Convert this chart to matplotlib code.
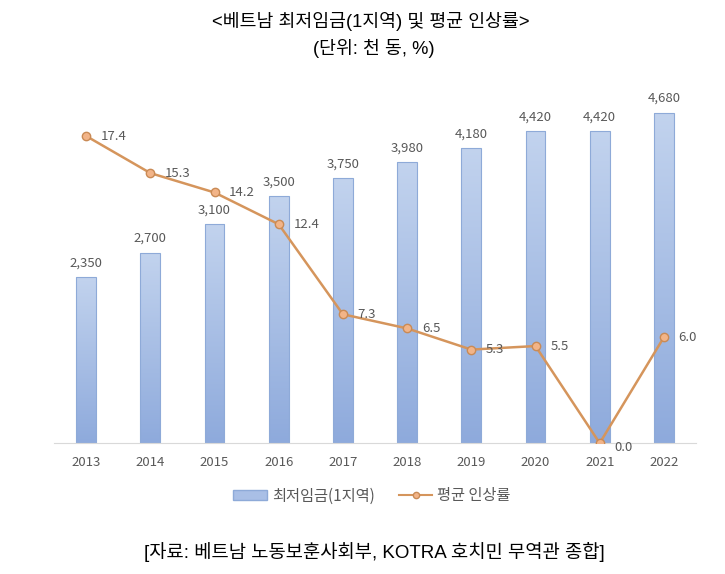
import numpy as np
import matplotlib.pyplot as plt
from matplotlib.lines import Line2D
from matplotlib.patches import Patch

plt.rcParams['font.family'] = ['Noto Sans CJK KR', 'DejaVu Sans']

years = ['2013', '2014', '2015', '2016', '2017', '2018', '2019', '2020', '2021', '2022']
wage = [2350, 2700, 3100, 3500, 3750, 3980, 4180, 4420, 4420, 4680]
rate = [17.4, 15.3, 14.2, 12.4, 7.3, 6.5, 5.3, 5.5, 0.0, 6.0]

gray = '#595959'
line_col = '#d5955c'
title_font = ['Liberation Sans', 'Noto Sans CJK KR']

fig = plt.figure(figsize=(7.25, 5.74), dpi=100)
ax = fig.add_axes([0.0745, 0.228, 0.8855, 0.615])
ax2 = ax.twinx()

x = np.arange(len(years))
bars = ax.bar(x, wage, width=0.31, color='none', edgecolor='#8eaad8', linewidth=0.8, zorder=2)

# gradient fill inside each bar
grad = np.linspace(0, 1, 256).reshape(-1, 1)
cmap = plt.matplotlib.colors.LinearSegmentedColormap.from_list('b', ['#8eaadc', '#c2d3ee'])
for b in bars:
    x0, w, h = b.get_x(), b.get_width(), b.get_height()
    im = ax.imshow(grad, extent=[x0, x0 + w, 0, h], origin='lower', cmap=cmap,
                   aspect='auto', zorder=1)
    im.set_clip_path(b)

for xi, v in zip(x, wage):
    ax.text(xi, v + 110, f'{v:,}', ha='center', va='bottom', fontsize=9.5, color=gray)

ax.set_xlim(-0.5, len(years) - 0.5)
ax.set_ylim(0, 5000)
ax2.set_ylim(0, 20)

ax2.plot(x, rate, color=line_col, linewidth=1.8, marker='o', markersize=6,
         markerfacecolor='#f2b488', markeredgecolor='#c98a55', markeredgewidth=1, zorder=3)
for xi, v in zip(x, rate):
    dy = -0.25 if v == 0 else 0
    ax2.text(xi + 0.23, v + dy, f'{v:.1f}', ha='left', va='center', fontsize=9.5, color=gray)

for a in (ax, ax2):
    for s in a.spines.values():
        s.set_visible(False)
    a.set_yticks([])
ax.spines['bottom'].set_visible(True)
ax.spines['bottom'].set_color('#d9d9d9')
ax.set_xticks(x)
ax.set_xticklabels(years, fontsize=9.5, color=gray)
ax.tick_params(axis='x', length=0, pad=9)

handles = [Patch(facecolor='#a9bfe6', edgecolor='#8eaad8'),
           Line2D([0], [0], color=line_col, linewidth=1.5, marker='o', markersize=4.5,
                  markerfacecolor='#f2b488', markeredgecolor='#c98a55')]
leg = fig.legend(handles, ['최저임금(1지역)', '평균 인상률'], loc='center', ncol=2,
                 bbox_to_anchor=(0.513, 0.136), frameon=False, fontsize=11,
                 handlelength=2.2, handleheight=0.6, handletextpad=0.3, columnspacing=1.6)
for t in leg.get_texts():
    t.set_color(gray)

fig.text(0.511, 0.962, '<베트남 최저임금(1지역) 및 평균 인상률>', ha='center', va='center',
         fontsize=13.2, family=title_font)
fig.text(0.516, 0.916, '(단위: 천 동, %)', ha='center', va='center', fontsize=13.2,
         family=title_font)
fig.text(0.516, 0.038, '[자료: 베트남 노동보훈사회부, KOTRA 호치민 무역관 종합]', ha='center',
         va='center', fontsize=13.5, family=title_font)

fig.savefig('out.png', dpi=100)
